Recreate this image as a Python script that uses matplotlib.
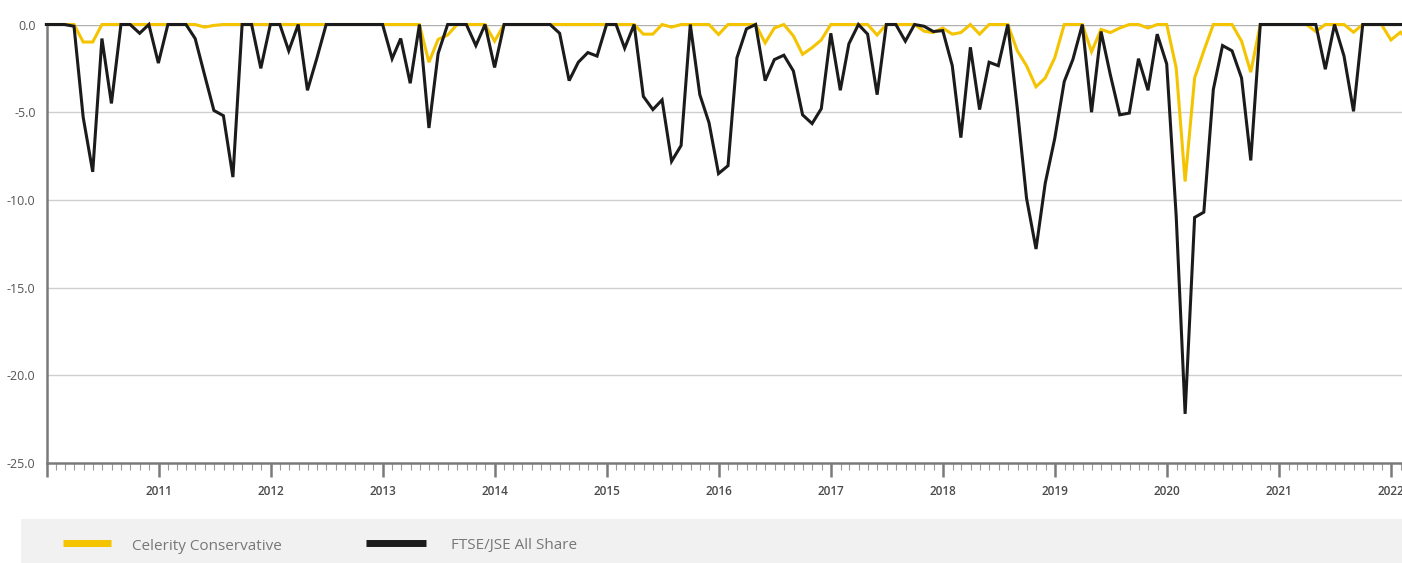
import numpy as np
import pandas as pd
import matplotlib
matplotlib.use("Agg")
import matplotlib.pyplot as plt
import matplotlib.dates as mdates
import matplotlib.ticker as mticker
from matplotlib.patches import Rectangle
from matplotlib.lines import Line2D

plt.rcParams['font.family'] = ['Open Sans', 'DejaVu Sans']

# monthly drawdowns (%), month-end values from Dec 2009
ftse_jse = [
    0, 0, 0, -0.1, -5.3, -8.4, -0.8, -4.5, 0, 0,
    -0.5, 0, -2.2, 0, 0, 0, -0.8, -2.9, -4.9, -5.2,
    -8.7, 0, 0, -2.5, 0, 0, -1.5, 0, -3.75, -1.9,
    0, 0, 0, 0, 0, 0, 0, -1.95, -0.8, -3.35,
    0, -5.9, -1.65, 0, 0, 0, -1.2, 0, -2.45, 0,
    0, 0, 0, 0, 0, -0.5, -3.2, -2.15, -1.6, -1.8,
    0, 0, -1.35, 0, -4.1, -4.85, -4.3, -7.8, -6.9, 0,
    -4.0, -5.6, -8.5, -8.05, -1.9, -0.25, 0, -3.2, -2.0, -1.75,
    -2.65, -5.15, -5.65, -4.8, -0.5, -3.75, -1.1, 0, -0.55, -4.0,
    0, 0, -0.95, 0, -0.1, -0.4, -0.35, -2.35, -6.45, -1.3,
    -4.85, -2.15, -2.35, 0, -4.8, -9.9, -12.8, -9.05, -6.5, -3.25,
    -2.0, 0, -5.0, -0.4, -2.85, -5.15, -5.05, -1.95, -3.75, -0.55,
    -2.25, -10.95, -22.2, -11.0, -10.7, -3.7, -1.2, -1.5, -3.05, -7.75,
    0, 0, 0, 0, 0, 0, 0, -2.55, 0, -1.8,
    -4.95, 0, 0, 0, 0, 0, 0,
]

celerity = [
    0, 0, 0, 0, -1.0, -1.0, 0, 0, 0, 0,
    0, 0, 0, 0, 0, 0, 0, -0.15, -0.05, 0,
    0, 0, 0, 0, 0, 0, 0, 0, 0, 0,
    0, 0, 0, 0, 0, 0, 0, 0, 0, 0,
    0, -2.15, -0.85, -0.6, 0, 0, 0, 0, -0.95, 0,
    0, 0, 0, 0, 0, 0, 0, 0, 0, 0,
    0, 0, 0, 0, -0.55, -0.55, 0, -0.15, 0, 0,
    0, 0, -0.57, 0, 0, 0, 0, -1.05, -0.2, 0,
    -0.65, -1.7, -1.32, -0.88, 0, 0, 0, 0, 0, -0.6,
    0, 0, 0, 0, -0.38, -0.46, -0.2, -0.55, -0.46, 0,
    -0.55, 0, 0, 0, -1.5, -2.35, -3.55, -3.05, -1.9, 0,
    0, 0, -1.55, -0.28, -0.46, -0.2, 0, 0, -0.2, 0,
    0, -2.48, -8.95, -3.05, -1.5, 0, 0, 0, -0.95, -2.72,
    0, 0, 0, 0, 0, 0, -0.4, 0, 0, 0,
    -0.44, 0, 0, 0, -0.88, -0.44, -1.0,
]

series_names = ["Celerity Conservative", "FTSE/JSE All Share"]
y_ticks = [0, -5, -10, -15, -20, -25]

dates = pd.date_range("2010-01-01", periods=len(ftse_jse), freq="MS") - pd.Timedelta(days=1)

YELLOW = "#f5c400"
BLACK = "#1b1b1b"

fig = plt.figure(figsize=(14.02, 5.63), dpi=100)
ax = fig.add_axes([46.7 / 1402, 1 - 463 / 563, 1 - 46.7 / 1402, (463 - 24.5) / 563])

for y in y_ticks[1:-1]:
    ax.axhline(y, color="#cfcfcf", lw=1.0, zorder=1)
ax.axhline(0, color="#b0b0b0", lw=1.0, zorder=1)

ax.plot(dates, celerity, color=YELLOW, lw=2.2, zorder=3, clip_on=False, solid_joinstyle="miter")
ax.plot(dates, ftse_jse, color=BLACK, lw=2.2, zorder=4, clip_on=False, solid_joinstyle="miter")

ax.set_ylim(-25, 0)
ax.set_xlim(pd.Timestamp("2010-01-01"), pd.Timestamp("2022-02-05"))

ax.set_yticks(y_ticks)
ax.yaxis.set_major_formatter(mticker.FuncFormatter(lambda v, p: f"{v:.1f}"))
ax.tick_params(axis="y", length=0, pad=8, labelsize=9, labelcolor="#555555")

ax.xaxis.set_major_locator(mdates.YearLocator())
ax.xaxis.set_minor_locator(mdates.MonthLocator())
ax.xaxis.set_major_formatter(mticker.FuncFormatter(
    lambda v, p: "" if mdates.num2date(v).year == 2010 else str(mdates.num2date(v).year)))
ax.tick_params(axis="x", which="major", length=10, width=1.8, color="#7a7a7a",
               pad=6, labelsize=8.5, labelcolor="#4a4a4a")
ax.tick_params(axis="x", which="minor", length=5, width=0.8, color="#9a9a9a")
for lab in ax.get_xticklabels():
    lab.set_fontweight("semibold")

for side in ["top", "right"]:
    ax.spines[side].set_visible(False)
for side in ["left", "bottom"]:
    ax.spines[side].set_color("#7a7a7a")
    ax.spines[side].set_linewidth(1.8)

# legend band
fig.patches.append(Rectangle((21 / 1402, 0), 1 - 21 / 1402, 44 / 563,
                             transform=fig.transFigure, facecolor="#f1f1f1",
                             edgecolor="none", zorder=0))
leg_y = 1 - 543 / 563
txt_y = 1 - 546 / 563
fig.lines.append(Line2D([63 / 1402, 111 / 1402], [leg_y, leg_y], transform=fig.transFigure,
                        color=YELLOW, lw=5, solid_capstyle="butt"))
fig.text(132 / 1402, txt_y, series_names[0], ha="left", va="center",
         fontsize=11, color="#777777")
fig.lines.append(Line2D([366 / 1402, 426 / 1402], [leg_y, leg_y], transform=fig.transFigure,
                        color=BLACK, lw=5, solid_capstyle="butt"))
fig.text(451 / 1402, txt_y, series_names[1], ha="left", va="center",
         fontsize=11, color="#777777")

fig.savefig("out.png", dpi=100)
